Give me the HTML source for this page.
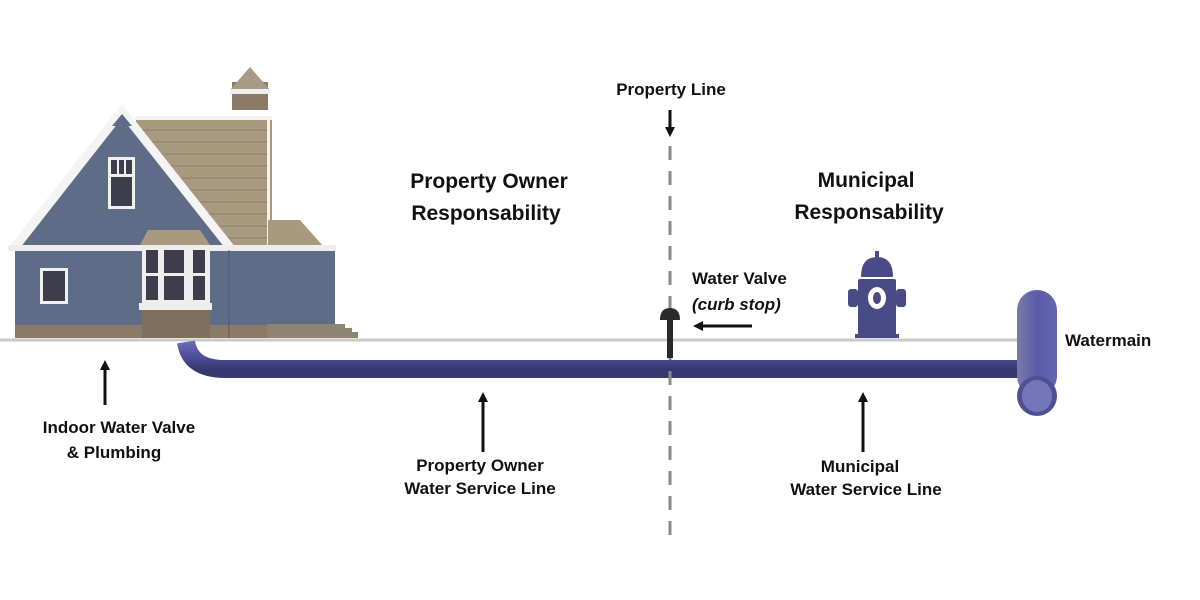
<!DOCTYPE html>
<html><head><meta charset="utf-8"><style>
html,body{margin:0;padding:0;background:#fff;}
svg{display:block;}
text{font-family:"Liberation Sans",sans-serif;font-weight:bold;fill:#111;}
</style></head><body>
<svg width="1200" height="600" viewBox="0 0 1200 600" xmlns="http://www.w3.org/2000/svg">
<defs>
<linearGradient id="pg" x1="0" y1="0" x2="0" y2="1">
<stop offset="0" stop-color="#6a6cb8"/><stop offset="0.5" stop-color="#4f519e"/><stop offset="1" stop-color="#363870"/>
</linearGradient>
<linearGradient id="vg" x1="0" y1="0" x2="1" y2="0">
<stop offset="0" stop-color="#7a7aa8"/><stop offset="0.5" stop-color="#5a5ca8"/><stop offset="1" stop-color="#6466b0"/>
</linearGradient>
<marker id="ah" markerWidth="10" markerHeight="10" refX="5" refY="5" orient="auto" markerUnits="userSpaceOnUse">
<path d="M0,0 L10,5 L0,10 z" fill="#111"/>
</marker>
</defs>

<line x1="0" y1="340" x2="1018" y2="340" stroke="#c9c9c9" stroke-width="3"/>

<g>
<rect x="232" y="82" width="36" height="28" fill="#8a7a66"/>
<polygon points="230,90 250,67 270,90" fill="#a89a84"/>
<rect x="230" y="89" width="40" height="5" fill="#eee"/>
<rect x="136" y="118" width="136" height="130" fill="#a8997f"/>
<g stroke="#8e8068" stroke-width="1">
<line x1="136" y1="130" x2="270" y2="130"/><line x1="136" y1="142" x2="270" y2="142"/><line x1="136" y1="154" x2="270" y2="154"/><line x1="136" y1="166" x2="270" y2="166"/><line x1="136" y1="178" x2="270" y2="178"/><line x1="136" y1="190" x2="270" y2="190"/><line x1="136" y1="202" x2="270" y2="202"/><line x1="136" y1="214" x2="270" y2="214"/><line x1="136" y1="226" x2="270" y2="226"/><line x1="136" y1="238" x2="270" y2="238"/>
</g>
<rect x="135" y="116" width="137" height="4" fill="#f2f2f2"/>
<rect x="267" y="118" width="3" height="130" fill="#f2f2f2"/>
<polygon points="268,220 300,220 323,246 268,246" fill="#a8997f"/>
<rect x="15" y="248" width="320" height="90" fill="#5e6c88"/>
<polygon points="14,248 122,112 232,248" fill="#5e6c88"/>
<polygon points="8,248 122,104 236,248 225,248 122,118 20,248" fill="#f4f4f4"/>
<polygon points="112,126 122,114 132,126" fill="#5e6c88"/>
<rect x="8" y="245" width="328" height="6" fill="#eeeeee"/>
<rect x="108" y="157" width="27" height="52" fill="#f0f0f0"/>
<rect x="111" y="160" width="6" height="14" fill="#3d3d4c"/><rect x="119" y="160" width="5" height="14" fill="#3d3d4c"/><rect x="126" y="160" width="6" height="14" fill="#3d3d4c"/>
<rect x="111" y="177" width="21" height="29" fill="#3d3d4c"/>
<rect x="40" y="268" width="28" height="36" fill="#f0f0f0"/>
<rect x="43" y="271" width="22" height="30" fill="#3d3d4c"/>
<polygon points="148,230 200,230 210,245 140,245" fill="#a8997f"/>
<rect x="142" y="248" width="68" height="55" fill="#eeeeee"/>
<rect x="146" y="250" width="12" height="23" fill="#3d3d4c"/><rect x="164" y="250" width="20" height="23" fill="#3d3d4c"/><rect x="193" y="250" width="12" height="23" fill="#3d3d4c"/>
<rect x="146" y="276" width="12" height="24" fill="#3d3d4c"/><rect x="164" y="276" width="20" height="24" fill="#3d3d4c"/><rect x="193" y="276" width="12" height="24" fill="#3d3d4c"/>
<rect x="139" y="303" width="73" height="7" fill="#eee"/>
<rect x="15" y="325" width="252" height="13" fill="#8a7a66"/>
<rect x="142" y="310" width="68" height="28" fill="#7f6f5c"/>
<rect x="267" y="324" width="68" height="14" fill="#8e8570"/>
<polygon points="335,324 345,324 345,328 352,328 352,332 358,332 358,338 335,338" fill="#8e8570"/>
<line x1="229" y1="250" x2="229" y2="338" stroke="#4d5a75" stroke-width="1"/>
</g>

<path d="M186,342 Q190,369 225,369 L1030,369" fill="none" stroke="url(#pg)" stroke-width="18"/>

<rect x="1017" y="290" width="40" height="106" rx="20" fill="url(#vg)"/>
<ellipse cx="1037" cy="396" rx="20" ry="20" fill="#4e5094"/>
<ellipse cx="1037" cy="396" rx="15" ry="16" fill="#7476b8"/>

<line x1="670" y1="146" x2="670" y2="535" stroke="#8a8a8a" stroke-width="3" stroke-dasharray="14,11"/>

<rect x="667" y="314" width="6" height="44" fill="#2a2a2a"/>
<path d="M660,320 Q660,308 670,308 Q680,308 680,320 z" fill="#2a2a2a"/>

<g fill="#4a4a86">
<rect x="875" y="251" width="4" height="6"/>
<path d="M861,277 Q861,257 877,257 Q893,257 893,277 z"/>
<rect x="858" y="279" width="38" height="56" rx="2"/>
<rect x="855" y="334" width="44" height="4"/>
<rect x="848" y="289" width="10" height="18" rx="3"/>
<rect x="896" y="289" width="10" height="18" rx="3"/>
</g>
<ellipse cx="877" cy="298" rx="9" ry="11" fill="#fff"/>
<ellipse cx="877" cy="298" rx="4" ry="6" fill="#4a4a86"/>

<g stroke="#111" stroke-width="3" fill="none" marker-end="url(#ah)">
<line x1="670" y1="110" x2="670" y2="132"/>
<line x1="752" y1="326" x2="698" y2="326"/>
<line x1="105" y1="405" x2="105" y2="365"/>
<line x1="483" y1="452" x2="483" y2="397"/>
<line x1="863" y1="452" x2="863" y2="397"/>
</g>

<text x="671" y="95" font-size="17" text-anchor="middle">Property Line</text>
<text x="489" y="188" font-size="21" text-anchor="middle">Property Owner</text>
<text x="486" y="220" font-size="21" text-anchor="middle">Responsability</text>
<text x="866" y="187" font-size="21" text-anchor="middle">Municipal</text>
<text x="869" y="219" font-size="21" text-anchor="middle">Responsability</text>
<text x="692" y="284" font-size="17">Water Valve</text>
<text x="692" y="310" font-size="17" font-style="italic">(curb stop)</text>
<text x="1065" y="346" font-size="17">Watermain</text>
<text x="119" y="433" font-size="17" text-anchor="middle">Indoor Water Valve</text>
<text x="114" y="458" font-size="17" text-anchor="middle">&amp; Plumbing</text>
<text x="480" y="471" font-size="17" text-anchor="middle">Property Owner</text>
<text x="480" y="494" font-size="17" text-anchor="middle">Water Service Line</text>
<text x="860" y="472" font-size="17" text-anchor="middle">Municipal</text>
<text x="866" y="495" font-size="17" text-anchor="middle">Water Service Line</text>
</svg>
</body></html>
